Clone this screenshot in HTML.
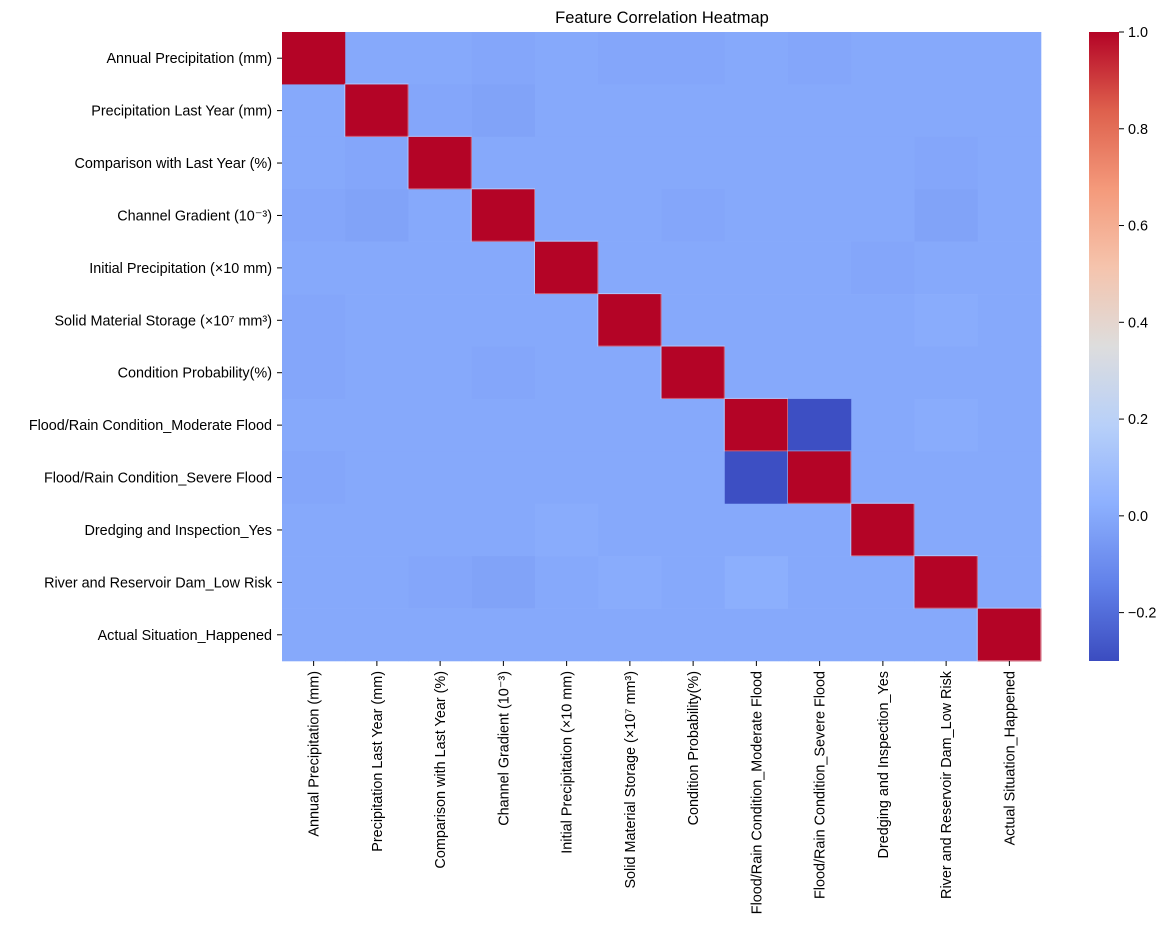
<!DOCTYPE html>
<html><head><meta charset="utf-8"><style>
body{margin:0;background:#fff;}
svg{display:block;font-family:"Liberation Sans","DejaVu Sans",sans-serif;}
</style></head><body>
<svg id="chart" width="1169" height="944">
<text x="662" y="23" text-anchor="middle" font-size="16.5" fill="#000">Feature Correlation Heatmap</text>
<g id="cells"></g>
<g id="ylabels"></g>
<g id="xlabels"></g>
<defs><linearGradient id="cbgrad" x1="0" y1="1" x2="0" y2="0"></linearGradient></defs>
<rect x="1089" y="32" width="30" height="629" fill="url(#cbgrad)"/>
<g id="cbticks"></g>
</svg>
<script>
const labels = ["Annual Precipitation (mm)","Precipitation Last Year (mm)","Comparison with Last Year (%)","Channel Gradient (10⁻³)","Initial Precipitation (×10 mm)","Solid Material Storage (×10⁷ mm³)","Condition Probability(%)","Flood/Rain Condition_Moderate Flood","Flood/Rain Condition_Severe Flood","Dredging and Inspection_Yes","River and Reservoir Dam_Low Risk","Actual Situation_Happened"];
const corr = [
[1,0.00,0.00,-0.01,0.00,-0.01,-0.01,0.00,-0.01,0.00,0.00,0.00],
[0.00,1,-0.01,-0.02,0.00,0.00,0.00,0.00,0.00,0.00,0.00,0.00],
[0.00,-0.01,1,0.00,0.00,0.00,0.00,0.00,0.00,0.00,-0.01,0.00],
[-0.01,-0.02,0.00,1,0.00,0.00,-0.01,0.00,0.00,0.00,-0.02,0.00],
[0.00,0.00,0.00,0.00,1,0.00,0.00,0.00,0.00,-0.01,0.00,0.00],
[-0.01,0.00,0.00,0.00,0.00,1,0.00,0.00,0.00,0.00,0.01,0.00],
[-0.01,0.00,0.00,-0.01,0.00,0.00,1,0.00,0.00,0.00,0.00,0.00],
[0.00,0.00,0.00,0.00,0.00,0.00,0.00,1,-0.29,0.00,0.01,0.00],
[-0.01,0.00,0.00,0.00,0.00,0.00,0.00,-0.29,1,0.00,0.00,0.00],
[0.00,0.00,0.00,0.00,0.01,0.00,0.00,0.00,0.00,1,0.00,0.00],
[0.00,0.00,-0.01,-0.02,0.00,0.01,0.00,0.02,0.00,0.00,1,0.00],
[0.00,0.00,0.00,0.00,0.00,0.00,0.00,0.00,0.00,0.00,0.00,1]];
const cbTicks = [1.0,0.8,0.6,0.4,0.2,0.0,-0.2];
const vmin=-0.3, vmax=1.0;
const L=282,T=32,W=759,H=629,n=labels.length,cw=W/n,ch=H/n;
const stops=[[59,76,192],[98,130,234],[141,176,254],[184,208,249],[221,221,221],[245,196,173],[244,154,123],[222,96,77],[180,4,38]];
function cmap(v){let t=(v-vmin)/(vmax-vmin);t=Math.max(0,Math.min(1,t));const p=t*8,i=Math.min(7,Math.floor(p)),f=p-i;const a=stops[i],b=stops[i+1];return `rgb(${a.map((c,k)=>Math.round(c+(b[k]-c)*f)).join(',')})`;}
const xS=i=>L+i*cw, yS=i=>T+i*ch, cbY=v=>T+H*(vmax-v)/(vmax-vmin);
const NS="http://www.w3.org/2000/svg";
function mk(tag,attrs,parent){const e=document.createElementNS(NS,tag);for(const k in attrs)e.setAttribute(k,attrs[k]);parent.appendChild(e);return e;}
const cells=document.getElementById('cells');
corr.forEach((row,r)=>row.forEach((v,c)=>{
 const e=mk('rect',{x:xS(c),y:yS(r),width:cw+0.3,height:ch+0.3,fill:cmap(v)},cells);
 
 
}));
for(let i=1;i<n;i++){
 mk('rect',{x:xS(i)-0.5,y:yS(i)-0.5,width:cw,height:ch,fill:'none',stroke:'rgba(255,255,255,0.35)','stroke-width':1},cells);
}
const yl=document.getElementById('ylabels'),xl=document.getElementById('xlabels');
labels.forEach((lab,i)=>{
 const cy=yS(i)+ch/2;
 mk('line',{x1:L-5,x2:L,y1:cy,y2:cy,stroke:'#000','stroke-width':1},yl);
 const t=mk('text',{x:L-10,y:cy+5,'text-anchor':'end','font-size':14.4},yl);
 t.textContent=lab;
 
 
 const cx=xS(i)+cw/2;
 mk('line',{x1:cx,x2:cx,y1:T+H,y2:T+H+5,stroke:'#000','stroke-width':1},xl);
 const u=mk('text',{x:0,y:0,'text-anchor':'end','font-size':14.4,transform:`translate(${cx+5},${T+H+10}) rotate(-90)`},xl);
 u.textContent=lab;
 
 
});
const g=document.getElementById('cbgrad');
for(let k=0;k<=40;k++){const v=vmin+(vmax-vmin)*k/40;mk('stop',{offset:(k/40),'stop-color':cmap(v)},g);}
const cb=document.getElementById('cbticks');
cbTicks.forEach(v=>{
 const y=cbY(v);
 mk('line',{x1:1119,x2:1124,y1:y,y2:y,stroke:'#000','stroke-width':1},cb);
 const t=mk('text',{x:1128,y:y+5,'font-size':14.4},cb);
 t.textContent=(v<0?'\u2212':'')+Math.abs(v).toFixed(1);
 
 
});
</script>
</body></html>
